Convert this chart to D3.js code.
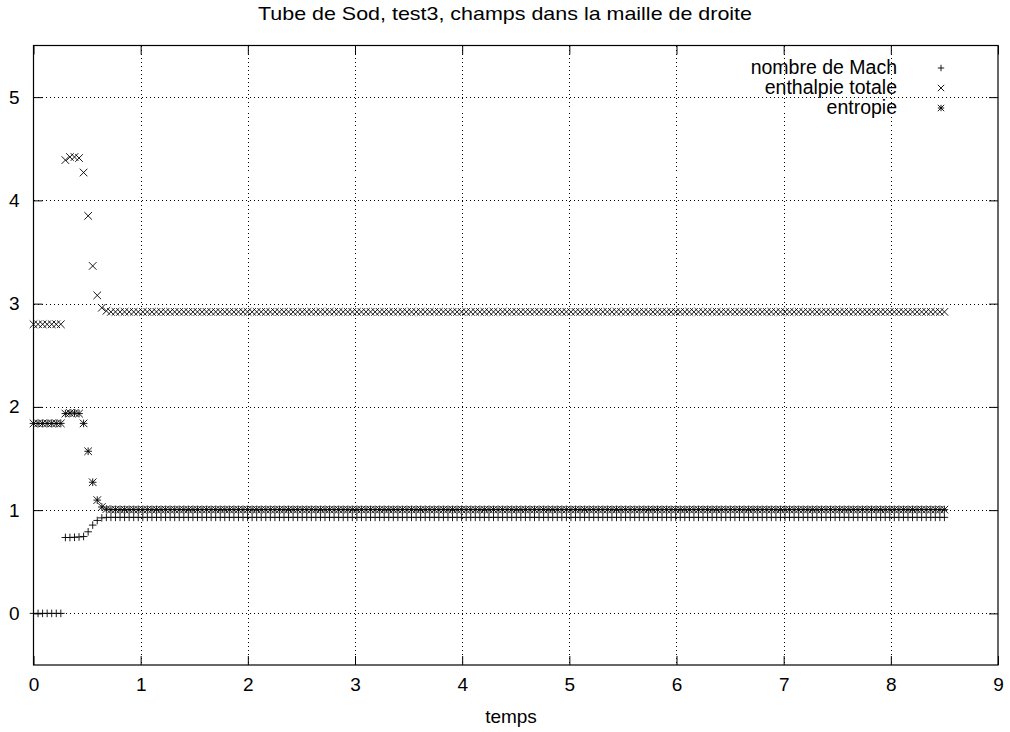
<!DOCTYPE html>
<html><head><meta charset="utf-8">
<script src="https://cdn.jsdelivr.net/npm/d3@7"></script>
<style>body{margin:0;background:#fff}svg{display:block}text{font-family:"Liberation Sans",Arial,sans-serif;fill:#000}</style>
</head><body><svg id="c" width="1010" height="732"></svg>
<script>
const title = "Tube de Sod, test3, champs dans la maille de droite";
const xLabel = "temps";
const xTicks = [0,1,2,3,4,5,6,7,8,9];
const yTicks = [0,1,2,3,4,5];
const seriesNames = ["nombre de Mach","enthalpie totale","entropie"];

const temps = [
0,0.0425,0.085,0.1275,0.17,0.2125,0.255,0.2975,0.34,0.3825,
0.425,0.4675,0.51,0.5525,0.595,0.6375,0.68,0.7225,0.765,0.8075,
0.85,0.8925,0.935,0.9775,1.02,1.0625,1.105,1.1475,1.19,1.2325,
1.275,1.3175,1.36,1.4025,1.445,1.4875,1.53,1.5725,1.615,1.6575,
1.7,1.7425,1.785,1.8275,1.87,1.9125,1.955,1.9975,2.04,2.0825,
2.125,2.1675,2.21,2.2525,2.295,2.3375,2.38,2.4225,2.465,2.5075,
2.55,2.5925,2.635,2.6775,2.72,2.7625,2.805,2.8475,2.89,2.9325,
2.975,3.0175,3.06,3.1025,3.145,3.1875,3.23,3.2725,3.315,3.3575,
3.4,3.4425,3.485,3.5275,3.57,3.6125,3.655,3.6975,3.74,3.7825,
3.825,3.8675,3.91,3.9525,3.995,4.0375,4.08,4.1225,4.165,4.2075,
4.25,4.2925,4.335,4.3775,4.42,4.4625,4.505,4.5475,4.59,4.6325,
4.675,4.7175,4.76,4.8025,4.845,4.8875,4.93,4.9725,5.015,5.0575,
5.1,5.1425,5.185,5.2275,5.27,5.3125,5.355,5.3975,5.44,5.4825,
5.525,5.5675,5.61,5.6525,5.695,5.7375,5.78,5.8225,5.865,5.9075,
5.95,5.9925,6.035,6.0775,6.12,6.1625,6.205,6.2475,6.29,6.3325,
6.375,6.4175,6.46,6.5025,6.545,6.5875,6.63,6.6725,6.715,6.7575,
6.8,6.8425,6.885,6.9275,6.97,7.0125,7.055,7.0975,7.14,7.1825,
7.225,7.2675,7.31,7.3525,7.395,7.4375,7.48,7.5225,7.565,7.6075,
7.65,7.6925,7.735,7.7775,7.82,7.8625,7.905,7.9475,7.99,8.0325,
8.075,8.1175,8.16,8.2025,8.245,8.2875,8.33,8.3725,8.415,8.4575,
8.5];

const mach = [
0,0,0,0,0,0,0,0.735,0.735,0.737,
0.74,0.745,0.79,0.855,0.9,0.925,0.93,0.93,0.93,0.93,
0.93,0.93,0.93,0.93,0.93,0.93,0.93,0.93,0.93,0.93,
0.93,0.93,0.93,0.93,0.93,0.93,0.93,0.93,0.93,0.93,
0.93,0.93,0.93,0.93,0.93,0.93,0.93,0.93,0.93,0.93,
0.93,0.93,0.93,0.93,0.93,0.93,0.93,0.93,0.93,0.93,
0.93,0.93,0.93,0.93,0.93,0.93,0.93,0.93,0.93,0.93,
0.93,0.93,0.93,0.93,0.93,0.93,0.93,0.93,0.93,0.93,
0.93,0.93,0.93,0.93,0.93,0.93,0.93,0.93,0.93,0.93,
0.93,0.93,0.93,0.93,0.93,0.93,0.93,0.93,0.93,0.93,
0.93,0.93,0.93,0.93,0.93,0.93,0.93,0.93,0.93,0.93,
0.93,0.93,0.93,0.93,0.93,0.93,0.93,0.93,0.93,0.93,
0.93,0.93,0.93,0.93,0.93,0.93,0.93,0.93,0.93,0.93,
0.93,0.93,0.93,0.93,0.93,0.93,0.93,0.93,0.93,0.93,
0.93,0.93,0.93,0.93,0.93,0.93,0.93,0.93,0.93,0.93,
0.93,0.93,0.93,0.93,0.93,0.93,0.93,0.93,0.93,0.93,
0.93,0.93,0.93,0.93,0.93,0.93,0.93,0.93,0.93,0.93,
0.93,0.93,0.93,0.93,0.93,0.93,0.93,0.93,0.93,0.93,
0.93,0.93,0.93,0.93,0.93,0.93,0.93,0.93,0.93,0.93,
0.93,0.93,0.93,0.93,0.93,0.93,0.93,0.93,0.93,0.93,
0.93];

const enthalpie = [
2.8,2.8,2.8,2.8,2.8,2.8,2.8,4.39,4.42,4.42,
4.41,4.27,3.85,3.365,3.08,2.96,2.93,2.92,2.92,2.92,
2.92,2.92,2.92,2.92,2.92,2.92,2.92,2.92,2.92,2.92,
2.92,2.92,2.92,2.92,2.92,2.92,2.92,2.92,2.92,2.92,
2.92,2.92,2.92,2.92,2.92,2.92,2.92,2.92,2.92,2.92,
2.92,2.92,2.92,2.92,2.92,2.92,2.92,2.92,2.92,2.92,
2.92,2.92,2.92,2.92,2.92,2.92,2.92,2.92,2.92,2.92,
2.92,2.92,2.92,2.92,2.92,2.92,2.92,2.92,2.92,2.92,
2.92,2.92,2.92,2.92,2.92,2.92,2.92,2.92,2.92,2.92,
2.92,2.92,2.92,2.92,2.92,2.92,2.92,2.92,2.92,2.92,
2.92,2.92,2.92,2.92,2.92,2.92,2.92,2.92,2.92,2.92,
2.92,2.92,2.92,2.92,2.92,2.92,2.92,2.92,2.92,2.92,
2.92,2.92,2.92,2.92,2.92,2.92,2.92,2.92,2.92,2.92,
2.92,2.92,2.92,2.92,2.92,2.92,2.92,2.92,2.92,2.92,
2.92,2.92,2.92,2.92,2.92,2.92,2.92,2.92,2.92,2.92,
2.92,2.92,2.92,2.92,2.92,2.92,2.92,2.92,2.92,2.92,
2.92,2.92,2.92,2.92,2.92,2.92,2.92,2.92,2.92,2.92,
2.92,2.92,2.92,2.92,2.92,2.92,2.92,2.92,2.92,2.92,
2.92,2.92,2.92,2.92,2.92,2.92,2.92,2.92,2.92,2.92,
2.92,2.92,2.92,2.92,2.92,2.92,2.92,2.92,2.92,2.92,
2.92];

const entropie = [
1.84,1.84,1.84,1.84,1.84,1.84,1.84,1.935,1.94,1.94,
1.935,1.84,1.57,1.27,1.097,1.03,1.01,1.005,1.005,1.005,
1.005,1.005,1.005,1.005,1.005,1.005,1.005,1.005,1.005,1.005,
1.005,1.005,1.005,1.005,1.005,1.005,1.005,1.005,1.005,1.005,
1.005,1.005,1.005,1.005,1.005,1.005,1.005,1.005,1.005,1.005,
1.005,1.005,1.005,1.005,1.005,1.005,1.005,1.005,1.005,1.005,
1.005,1.005,1.005,1.005,1.005,1.005,1.005,1.005,1.005,1.005,
1.005,1.005,1.005,1.005,1.005,1.005,1.005,1.005,1.005,1.005,
1.005,1.005,1.005,1.005,1.005,1.005,1.005,1.005,1.005,1.005,
1.005,1.005,1.005,1.005,1.005,1.005,1.005,1.005,1.005,1.005,
1.005,1.005,1.005,1.005,1.005,1.005,1.005,1.005,1.005,1.005,
1.005,1.005,1.005,1.005,1.005,1.005,1.005,1.005,1.005,1.005,
1.005,1.005,1.005,1.005,1.005,1.005,1.005,1.005,1.005,1.005,
1.005,1.005,1.005,1.005,1.005,1.005,1.005,1.005,1.005,1.005,
1.005,1.005,1.005,1.005,1.005,1.005,1.005,1.005,1.005,1.005,
1.005,1.005,1.005,1.005,1.005,1.005,1.005,1.005,1.005,1.005,
1.005,1.005,1.005,1.005,1.005,1.005,1.005,1.005,1.005,1.005,
1.005,1.005,1.005,1.005,1.005,1.005,1.005,1.005,1.005,1.005,
1.005,1.005,1.005,1.005,1.005,1.005,1.005,1.005,1.005,1.005,
1.005,1.005,1.005,1.005,1.005,1.005,1.005,1.005,1.005,1.005,
1.005];

const svg = d3.select("#c");
const L = 33.5, R = 998, T = 45.5, B = 665;
const x = d3.scaleLinear().domain([0, 9]).range([L, R]);
const y = d3.scaleLinear().domain([-0.5, 5.5]).range([B, T]);

// grid
const grid = svg.append("g").attr("stroke", "#000").attr("stroke-width", 1).attr("stroke-dasharray", "1,3").attr("shape-rendering","crispEdges");
xTicks.slice(1, -1).forEach(t => grid.append("line").attr("x1", Math.round(x(t))+0.5).attr("x2", Math.round(x(t))+0.5).attr("y1", T).attr("y2", B));
yTicks.forEach(t => grid.append("line").attr("y1", Math.round(y(t))+0.5).attr("y2", Math.round(y(t))+0.5).attr("x1", L).attr("x2", R));

// axes (ticks inside, mirrored)
const tick = 9;
const gB = svg.append("g").attr("transform", `translate(0,${B})`)
  .call(d3.axisBottom(x).tickValues(xTicks).tickSize(-tick).tickPadding(13).tickFormat(d3.format("d")));
const gT = svg.append("g").attr("transform", `translate(0,${T})`)
  .call(d3.axisTop(x).tickValues(xTicks).tickSize(-tick).tickFormat(""));
const gL = svg.append("g").attr("transform", `translate(${L},0)`)
  .call(d3.axisLeft(y).tickValues(yTicks).tickSize(-tick).tickPadding(tick + 5).tickFormat(d3.format("d")));
const gR = svg.append("g").attr("transform", `translate(${R},0)`)
  .call(d3.axisRight(y).tickValues(yTicks).tickSize(-tick).tickFormat(""));
[gB, gT, gL, gR].forEach(g => {
  g.select(".domain").remove();
  g.selectAll("line").attr("stroke", "#000").attr("stroke-width", 1);
  g.selectAll("text").attr("font-size", 19).attr("font-family", "Liberation Sans, Arial, sans-serif");
});
svg.append("rect").attr("x", L).attr("y", T).attr("width", R - L).attr("height", B - T)
  .attr("fill", "none").attr("stroke", "#000").attr("stroke-width", 1.2);

// markers
const s = 3.8;
const sym = {
  plus: (g, cx, cy, r) => g.append("path").attr("d", `M${cx-r},${cy}H${cx+r}M${cx},${cy-r}V${cy+r}`),
  cross: (g, cx, cy, r) => g.append("path").attr("d", `M${cx-r},${cy-r}L${cx+r},${cy+r}M${cx-r},${cy+r}L${cx+r},${cy-r}`),
  star: (g, cx, cy, r) => g.append("path").attr("d", `M${cx-r},${cy}H${cx+r}M${cx},${cy-r}V${cy+r}M${cx-r},${cy-r}L${cx+r},${cy+r}M${cx-r},${cy+r}L${cx+r},${cy-r}`)
};
const series = [
  {name: seriesNames[0], vals: mach, sym: "plus"},
  {name: seriesNames[1], vals: enthalpie, sym: "cross"},
  {name: seriesNames[2], vals: entropie, sym: "star"}
];
const marks = svg.append("g").attr("stroke", "#000").attr("stroke-width", 0.9).attr("fill", "none");
series.forEach(se => {
  se.vals.forEach((v, i) => sym[se.sym](marks, x(temps[i]), y(v), s));
});

// legend
const leg = svg.append("g");
series.forEach((se, i) => {
  const ly = 68 + i * 20;
  leg.append("text").attr("x", 897).attr("y", ly + 5.5).attr("text-anchor", "end")
    .attr("font-size", 19.5).text(se.name);
  sym[se.sym](leg.append("g").attr("stroke", "#000").attr("stroke-width", 0.9), 941, ly, 3.2);
});

// title & label
svg.append("text").attr("x", 505).attr("y", 20).attr("text-anchor", "middle").attr("font-size", 19)
  .attr("textLength", 494).attr("lengthAdjust", "spacingAndGlyphs").text(title);
svg.append("text").attr("x", 511).attr("y", 723).attr("text-anchor", "middle").attr("font-size", 19).text(xLabel);
</script></body></html>
